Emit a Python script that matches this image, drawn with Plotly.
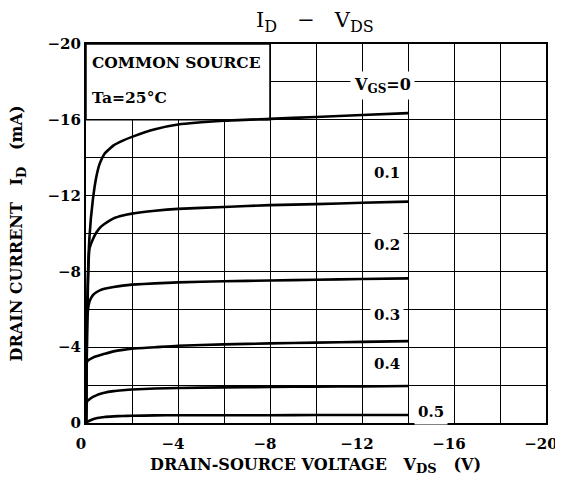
import plotly.graph_objects as go

# drain-source voltage (V), shared by all curves
vds = [0, -0.05, -0.15, -0.3, -0.45, -0.6, -0.8, -1.2, -1.6, -2, -3, -4, -6, -8, -10, -12, -14]

# drain current (mA) for each gate-source voltage
id_vgs_0 = [0, -6.0, -9.8, -11.8, -13.0, -13.7, -14.2, -14.65, -14.9, -15.1, -15.5, -15.75, -15.95, -16.05, -16.15, -16.25, -16.35]
id_vgs_01 = [0, -5.0, -9.2, -9.7, -10.05, -10.3, -10.5, -10.8, -10.95, -11.05, -11.2, -11.3, -11.4, -11.5, -11.55, -11.62, -11.68]
id_vgs_02 = [0, -5.5, -6.4, -6.75, -6.9, -7.0, -7.08, -7.18, -7.25, -7.3, -7.37, -7.42, -7.48, -7.52, -7.56, -7.6, -7.63]
id_vgs_03 = [0, -3.25, -3.35, -3.45, -3.52, -3.58, -3.65, -3.78, -3.86, -3.92, -4.0, -4.08, -4.15, -4.2, -4.24, -4.28, -4.32]
id_vgs_04 = [0, -1.15, -1.25, -1.38, -1.46, -1.53, -1.6, -1.68, -1.73, -1.77, -1.82, -1.85, -1.88, -1.9, -1.92, -1.93, -1.95]
id_vgs_05 = [0, -0.05, -0.12, -0.2, -0.25, -0.28, -0.32, -0.35, -0.37, -0.38, -0.4, -0.41, -0.41, -0.41, -0.42, -0.42, -0.42]

curves = [id_vgs_0, id_vgs_01, id_vgs_02, id_vgs_03, id_vgs_04, id_vgs_05]
curve_names = ["0", "0.1", "0.2", "0.3", "0.4", "0.5"]

# label positions (V, mA)
label_text = ["V<sub><span style='font-size:12px'>GS</span></sub>=0", "0.1", "0.2", "0.3", "0.4", "0.5"]
label_x = [-12.9, -13.1, -13.1, -13.1, -13.1, -15.0]
label_y = [-17.8, -13.2, -9.4, -5.7, -3.1, -0.6]

serif = "DejaVu Serif"


def sub(s, px):
    return "<sub><span style='font-size:%dpx'>%s</span></sub>" % (px, s)


fig = go.Figure()
for ys, nm in zip(curves, curve_names):
    fig.add_trace(go.Scatter(x=vds, y=ys, mode="lines", name=nm,
                             line=dict(color="black", width=2.6, shape="spline", smoothing=0.5),
                             showlegend=False, hoverinfo="skip"))

# box in the upper left corner
fig.add_shape(type="rect", x0=0, x1=-8, y0=-16, y1=-20, xref="x", yref="y",
              fillcolor="white", line=dict(color="black", width=1.5), layer="between")
fig.add_annotation(x=0, y=-19.0, xref="x", yref="y", text="<b>COMMON SOURCE</b>", showarrow=False,
                   xanchor="left", xshift=4, font=dict(family=serif, size=15.5, color="black"))
fig.add_annotation(x=0, y=-17.2, xref="x", yref="y", text="<b>Ta=25°C</b>", showarrow=False,
                   xanchor="left", xshift=4, font=dict(family=serif, size=15.5, color="black"))

for t, lx, ly in zip(label_text, label_x, label_y):
    fig.add_annotation(x=lx, y=ly, xref="x", yref="y", text="<b>" + t + "</b>", showarrow=False,
                       bgcolor="white", borderpad=3,
                       font=dict(family=serif, size=16 if "V" in t else 15, color="black"))

# axis titles
fig.add_annotation(x=0.498, y=-0.111, xref="paper", yref="paper", showarrow=False,
                   xanchor="center", yanchor="middle",
                   text="<b>DRAIN-SOURCE VOLTAGE   V" + sub("DS", 13) + "   (V)</b>",
                   font=dict(family=serif, size=16, color="black"))
fig.add_annotation(x=-0.148, y=0.5, xref="paper", yref="paper", showarrow=False, textangle=-90,
                   xanchor="center", yanchor="middle",
                   text="<b>DRAIN CURRENT   I" + sub("D", 13) + "   (mA)</b>",
                   font=dict(family=serif, size=16, color="black"))

axis_common = dict(showline=True, linecolor="black", linewidth=2, mirror=True,
                   showgrid=True, gridcolor="black", gridwidth=1.2, zeroline=False,
                   ticks="", automargin=False, ticklabeloverflow="allow",
                   tickfont=dict(family=serif, size=15, color="black", weight="bold"),
                   minor=dict(dtick=2, showgrid=True, gridcolor="black", gridwidth=1.2))

# the page body adds 8 px on the left and top, so the figure is 8 px smaller
fig.update_layout(
    width=555, height=483,
    margin=dict(l=78, r=17, t=36, b=68),
    paper_bgcolor="white", plot_bgcolor="white",
    title=dict(text="I" + sub("D", 16) + "   −   V" + sub("DS", 16), x=0.553, xanchor="center",
               y=0.975, yanchor="middle",
               font=dict(family=serif, size=21, color="black")),
    xaxis=dict(range=[0, -20], dtick=4, tick0=0, ticklabelstandoff=6, ticklabelshift=5,
               **axis_common),
    yaxis=dict(range=[0, -20], dtick=4, tick0=0, **axis_common),
)

fig.write_html("out.html")
